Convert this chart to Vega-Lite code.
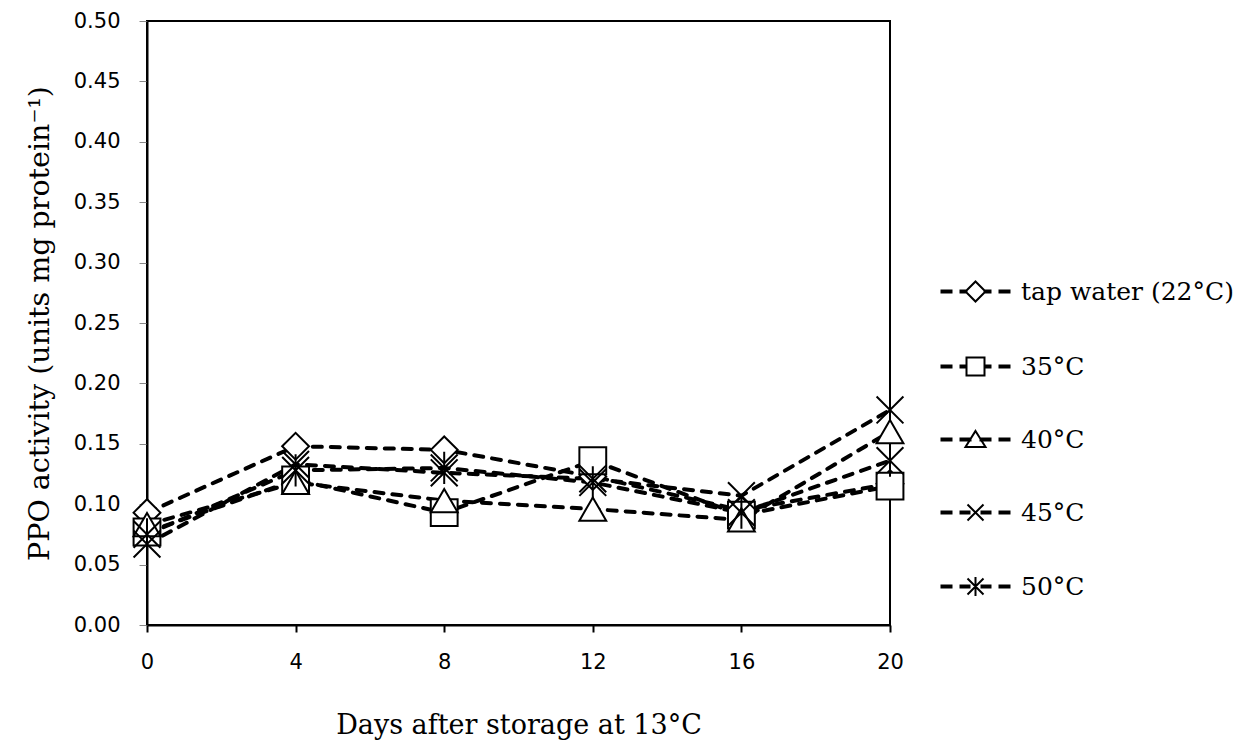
{
  "$schema": "https://vega.github.io/schema/vega-lite/v6.json",
  "width": 743,
  "height": 604,
  "autosize": {"type": "none"},
  "padding": {"left": 147, "top": 21, "right": 356, "bottom": 115},
  "background": "white",
  "config": {
    "view": {"stroke": "black", "strokeWidth": 2},
    "axis": {
      "grid": false,
      "domainColor": "black",
      "domainWidth": 2,
      "labelFont": "DejaVu Sans",
      "labelFontSize": 21,
      "labelColor": "black",
      "labelPadding": 19,
      "labelFlush": false,
      "titleFont": "DejaVu Serif",
      "titleFontWeight": "normal",
      "titleColor": "black"
    }
  },
  "data": {
    "values": [
      {"day": 0, "series": "tap water (22°C)", "ppo": 0.093},
      {"day": 4, "series": "tap water (22°C)", "ppo": 0.148},
      {"day": 8, "series": "tap water (22°C)", "ppo": 0.145},
      {"day": 12, "series": "tap water (22°C)", "ppo": 0.123},
      {"day": 16, "series": "tap water (22°C)", "ppo": 0.095},
      {"day": 20, "series": "tap water (22°C)", "ppo": 0.117},
      {"day": 0, "series": "35°C", "ppo": 0.077},
      {"day": 4, "series": "35°C", "ppo": 0.12},
      {"day": 8, "series": "35°C", "ppo": 0.093},
      {"day": 12, "series": "35°C", "ppo": 0.136},
      {"day": 16, "series": "35°C", "ppo": 0.091},
      {"day": 20, "series": "35°C", "ppo": 0.115},
      {"day": 0, "series": "40°C", "ppo": 0.083},
      {"day": 4, "series": "40°C", "ppo": 0.118},
      {"day": 8, "series": "40°C", "ppo": 0.103},
      {"day": 12, "series": "40°C", "ppo": 0.096},
      {"day": 16, "series": "40°C", "ppo": 0.087},
      {"day": 20, "series": "40°C", "ppo": 0.16},
      {"day": 0, "series": "45°C", "ppo": 0.067},
      {"day": 4, "series": "45°C", "ppo": 0.133},
      {"day": 8, "series": "45°C", "ppo": 0.126},
      {"day": 12, "series": "45°C", "ppo": 0.121},
      {"day": 16, "series": "45°C", "ppo": 0.107},
      {"day": 20, "series": "45°C", "ppo": 0.178},
      {"day": 0, "series": "50°C", "ppo": 0.075},
      {"day": 4, "series": "50°C", "ppo": 0.128},
      {"day": 8, "series": "50°C", "ppo": 0.13},
      {"day": 12, "series": "50°C", "ppo": 0.118},
      {"day": 16, "series": "50°C", "ppo": 0.093},
      {"day": 20, "series": "50°C", "ppo": 0.136}
    ]
  },
  "encoding": {
    "x": {
      "field": "day",
      "type": "quantitative",
      "scale": {"domain": [0, 20], "nice": false, "zero": false},
      "axis": {
        "title": "Days after storage at 13°C",
        "titleFontSize": 27,
        "values": [0, 4, 8, 12, 16, 20],
        "tickColor": "black",
        "tickWidth": 2,
        "tickSize": 7,
        "titlePadding": 40
      }
    },
    "y": {
      "field": "ppo",
      "type": "quantitative",
      "scale": {"domain": [0, 0.5], "nice": false},
      "axis": {
        "title": "PPO activity (units mg protein⁻¹)",
        "titleFontSize": 28.5,
        "values": [0, 0.05, 0.1, 0.15, 0.2, 0.25, 0.3, 0.35, 0.4, 0.45, 0.5],
        "format": ".2f",
        "tickColor": "#888888",
        "tickWidth": 1,
        "tickSize": 8,
        "titlePadding": 19
      }
    }
  },
  "layer": [
    {
      "mark": {"type": "line", "color": "black", "strokeWidth": 4, "strokeDash": [9, 9], "strokeCap": "round"},
      "encoding": {"detail": {"field": "series", "type": "nominal"}}
    },
    {
      "mark": {"type": "point", "filled": true, "fill": "white", "stroke": "black", "strokeWidth": 2, "size": 720, "opacity": 1},
      "encoding": {
        "shape": {
          "field": "series",
          "type": "nominal",
          "scale": {
            "domain": ["tap water (22°C)", "35°C", "40°C", "45°C", "50°C"],
            "range": ["diamond", "square", "triangle-up", "M-1,-1L1,1M-1,1L1,-1", "M-1,-1L1,1M-1,1L1,-1M0,-1.2L0,1.2"]
          },
          "legend": null
        }
      }
    },
    {
      "mark": {"type": "point", "filled": false, "color": "black", "strokeWidth": 2, "opacity": 0},
      "encoding": {
        "shape": {
          "field": "series",
          "type": "nominal",
          "scale": {
            "domain": ["tap water (22°C)", "35°C", "40°C", "45°C", "50°C"],
            "range": [
              "M-3.4,-0.1H-2.4V0.1H-3.4ZM-1.5,-0.1H-0.9V0.1H-1.5ZM0.9,-0.1H1.5V0.1H0.9ZM2.4,-0.1H3.4V0.1H2.4ZM-1,0L0,-1L1,0L0,1Z",
              "M-3.4,-0.1H-2.4V0.1H-3.4ZM-1.5,-0.1H-0.9V0.1H-1.5ZM0.9,-0.1H1.5V0.1H0.9ZM2.4,-0.1H3.4V0.1H2.4ZM-0.9,-0.9H0.9V0.9H-0.9Z",
              "M-3.4,-0.1H-2.4V0.1H-3.4ZM-1.5,-0.1H-0.5V0.1H-1.5ZM0.5,-0.1H1.5V0.1H0.5ZM2.4,-0.1H3.4V0.1H2.4ZM0,-0.85L1,0.75L-1,0.75Z",
              "M-3.4,-0.1H-2.4V0.1H-3.4ZM-1.5,-0.1H-0.6V0.1H-1.5ZM0.6,-0.1H1.5V0.1H0.6ZM2.4,-0.1H3.4V0.1H2.4ZM-0.8,-0.8L0.8,0.8M-0.8,0.8L0.8,-0.8",
              "M-3.4,-0.1H-2.4V0.1H-3.4ZM-1.5,-0.1H-0.6V0.1H-1.5ZM0.6,-0.1H1.5V0.1H0.6ZM2.4,-0.1H3.4V0.1H2.4ZM-0.8,-0.8L0.8,0.8M-0.8,0.8L0.8,-0.8M0,-0.95L0,0.95"
            ]
          },
          "legend": {
            "title": null,
            "orient": "none",
            "legendX": 816,
            "legendY": 258,
            "padding": 0,
            "symbolSize": 400,
            "symbolStrokeWidth": 2,
            "symbolStrokeColor": "black",
            "symbolFillColor": "transparent",
            "symbolOpacity": 1,
            "labelFont": "DejaVu Serif",
            "labelFontSize": 25,
            "labelColor": "black",
            "labelOffset": 33,
            "rowPadding": 47,
            "labelLimit": 400
          }
        }
      }
    }
  ],
  "resolve": {"scale": {"shape": "independent"}, "legend": {"shape": "independent"}}
}
